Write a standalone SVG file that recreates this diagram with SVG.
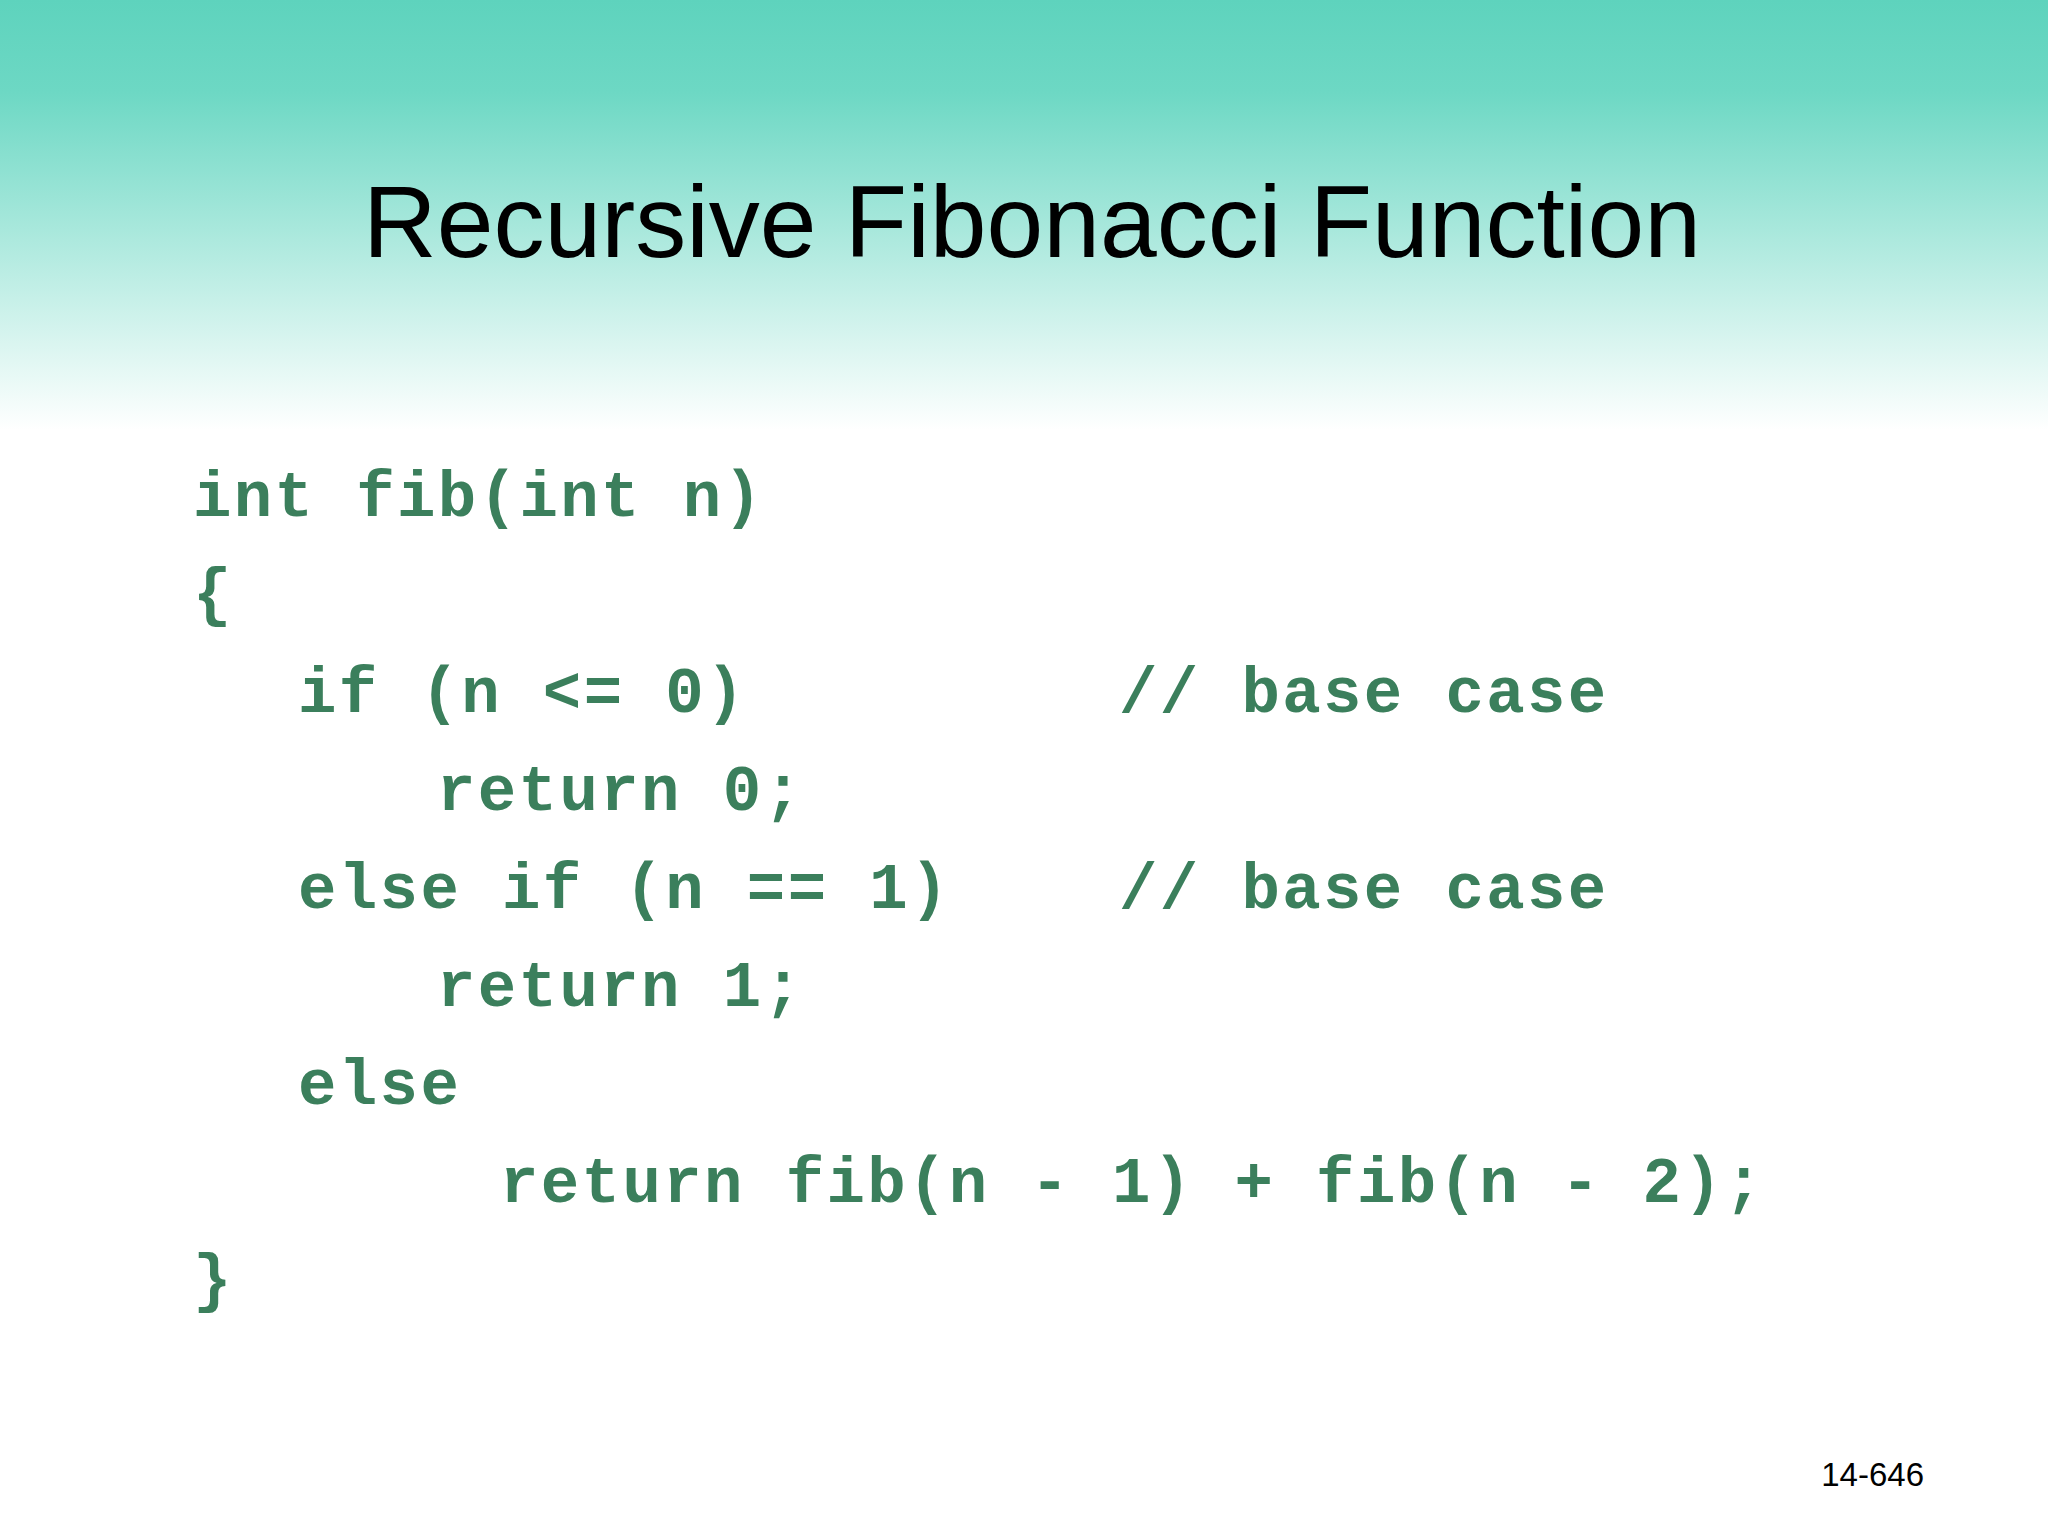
<svg xmlns="http://www.w3.org/2000/svg" width="2048" height="1536" viewBox="0 0 2048 1536">
<defs>
<linearGradient id="bg" x1="0" y1="0" x2="0" y2="1">
<stop offset="0" stop-color="#5ed3bd"/>
<stop offset="0.06" stop-color="#6dd8c4"/>
<stop offset="0.28" stop-color="#ffffff"/>
<stop offset="1" stop-color="#ffffff"/>
</linearGradient>
<style>
.c{font-family:"Liberation Mono","Courier New",monospace;font-weight:bold;font-size:64px;fill:#3b7f5c;letter-spacing:2.4px;white-space:pre}
</style>
</defs>
<rect width="2048" height="1536" fill="url(#bg)"/>
<text x="1032" y="257" text-anchor="middle" font-family="Liberation Sans,Arial,sans-serif" font-size="102" fill="#000">Recursive Fibonacci Function</text>
<g id="code">
<text class="c" x="193" y="516">int fib(int n)</text>
<text class="c" x="193" y="614">{</text>
<text class="c" x="298" y="712">if (n &lt;= 0)</text>
<text class="c" x="1119" y="712">// base case</text>
<text class="c" x="437" y="810">return 0;</text>
<text class="c" x="298" y="908">else if (n == 1)</text>
<text class="c" x="1119" y="908">// base case</text>
<text class="c" x="437" y="1006">return 1;</text>
<text class="c" x="298" y="1104">else</text>
<text class="c" x="500" y="1202">return fib(n - 1) + fib(n - 2);</text>
<text class="c" x="193" y="1300">}</text>
</g>
<text x="1924" y="1486" text-anchor="end" font-family="Liberation Sans,Arial,sans-serif" font-size="33" fill="#000">14-646</text>
</svg>
